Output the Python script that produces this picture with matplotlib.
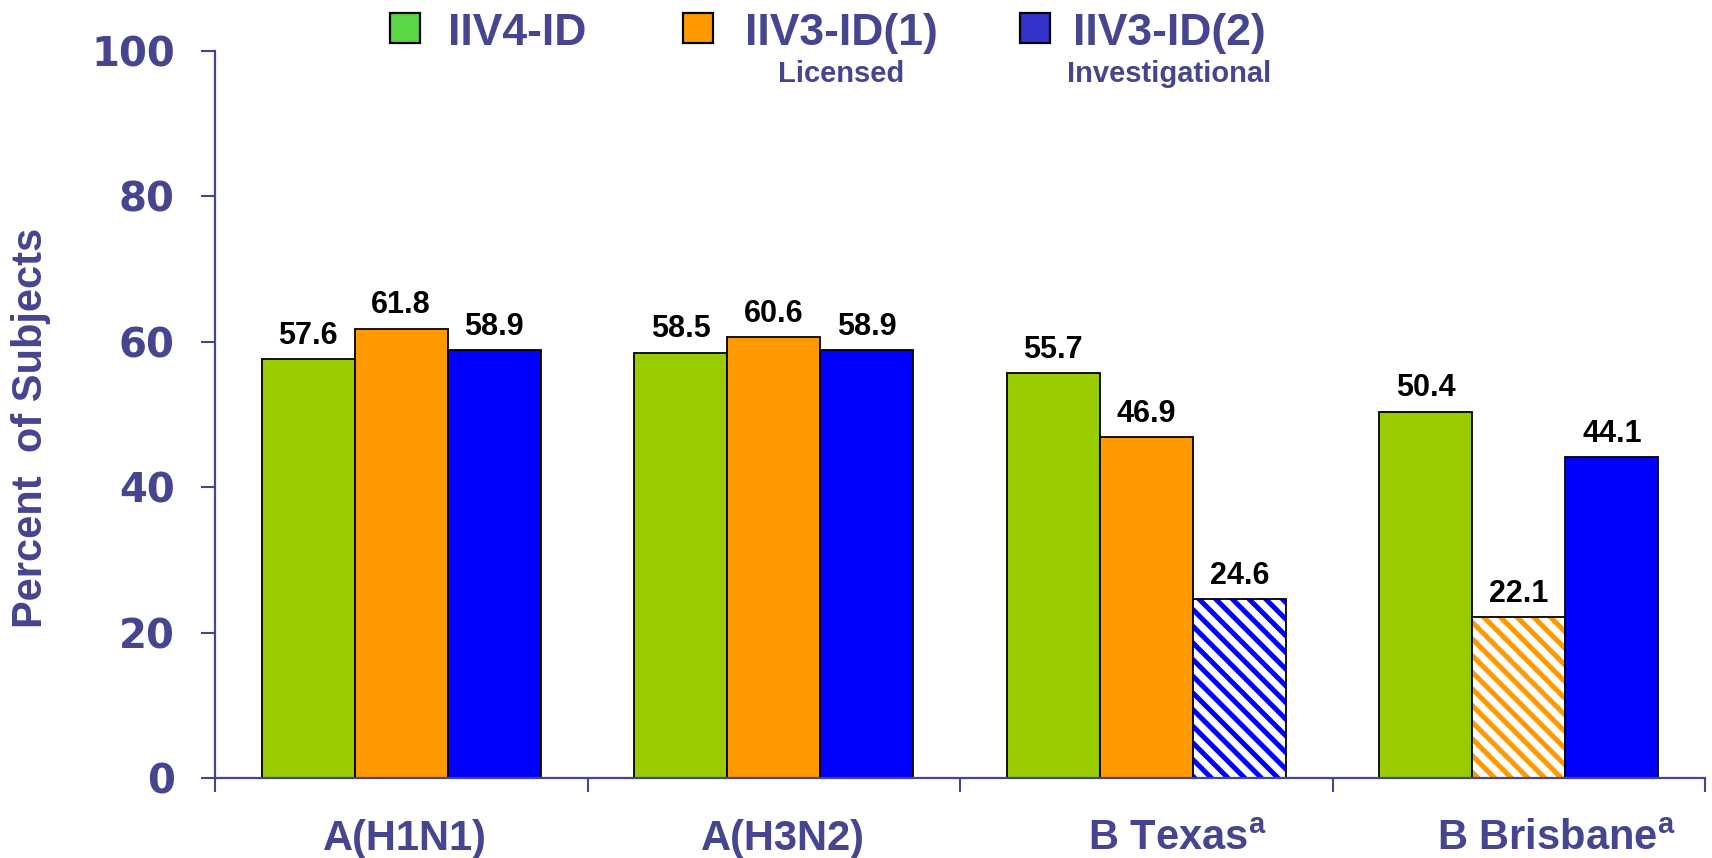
import matplotlib
matplotlib.use("Agg")
import matplotlib.pyplot as plt
from matplotlib.patches import Rectangle
import numpy as np

# values
categories = ["A(H1N1)", "A(H3N2)", r"B Texas$^{\mathrm{a}}$", r"B Brisbane$^{\mathrm{a}}$"]
series_names = ["IIV4-ID", "IIV3-ID(1)", "IIV3-ID(2)"]
series_notes = ["", "Licensed", "Investigational"]
iiv4_id = [57.6, 58.5, 55.7, 50.4]
iiv3_id1 = [61.8, 60.6, 46.9, 22.1]
iiv3_id2 = [58.9, 58.9, 24.6, 44.1]
y_ticks = [0, 20, 40, 60, 80, 100]

# styling
bar_colors = ["#99cc00", "#ff9900", "#0000ff"]
legend_colors = ["#5cd846", "#ff9900", "#3333cc"]
hatched_cells = {(2, 2), (3, 1)}  # (category, series) drawn striped
label_shift = [0.01, 0.024, 0.083, 0.10]
axis_color = "#454590"

plt.rcParams["font.family"] = ["Liberation Sans", "DejaVu Sans"]
plt.rcParams["mathtext.fontset"] = "custom"
plt.rcParams["mathtext.rm"] = "Liberation Sans:bold"
plt.rcParams["mathtext.bf"] = "Liberation Sans:bold"
plt.rcParams["hatch.linewidth"] = 3.6

fig = plt.figure(figsize=(17.12, 8.58), dpi=100)
ax = fig.add_axes([215 / 1712, 80 / 858, 1490 / 1712, 727 / 858])

series = [iiv4_id, iiv3_id1, iiv3_id2]
x = np.arange(len(categories))
width = 0.25

for s, vals in enumerate(series):
    xs = x + (s - 1) * width
    for c, v in enumerate(vals):
        if (c, s) in hatched_cells:
            ax.bar(xs[c], v, width, facecolor="white", edgecolor=bar_colors[s],
                   hatch="\\\\", linewidth=0, zorder=2)
            ax.bar(xs[c], v, width, fill=False, edgecolor="black",
                   linewidth=1.3, zorder=3)
        else:
            ax.bar(xs[c], v, width, color=bar_colors[s], edgecolor="black",
                   linewidth=1.3, zorder=2)
        ax.annotate(f"{v:.1f}", (xs[c], v), xytext=(0, 11), textcoords="offset points",
                    ha="center", va="baseline", fontsize=22, fontweight="bold",
                    color="black", zorder=4)

ax.set_xlim(-0.5, len(categories) - 0.5)
ax.set_ylim(0, 100)

for side in ["top", "right"]:
    ax.spines[side].set_visible(False)
for side in ["left", "bottom"]:
    ax.spines[side].set_color(axis_color)
    ax.spines[side].set_linewidth(1.6)
    ax.spines[side].set_zorder(5)

ax.set_yticks(y_ticks)
ax.set_yticklabels([str(t) for t in y_ticks], fontfamily="DejaVu Sans",
                   fontweight="bold", fontsize=29, color=axis_color)
ax.tick_params(axis="y", direction="out", length=10, width=1.5, color=axis_color, pad=19)

ax.set_xticks(np.arange(len(categories) + 1) - 0.5)
ax.set_xticklabels([])
ax.tick_params(axis="x", direction="out", length=10, width=1.5, color=axis_color)

for i, name in enumerate(categories):
    ax.annotate(name, (i + label_shift[i], 0), xycoords=("data", "axes fraction"),
                xytext=(0, -52), textcoords="offset points", ha="center",
                va="baseline", fontsize=30, fontweight="bold", color=axis_color,
                annotation_clip=False)

fig.text(31 / 1712, 0.501, "Percent  of Subjects", rotation=90, ha="center",
         va="center", fontsize=30, fontweight="bold", color=axis_color)

# legend drawn by hand so the sub-notes can sit under the names
box_left = [390, 683, 1020]
text_left = [448, 745, 1073]
for k in range(len(series_names)):
    fig.patches.append(Rectangle((box_left[k] / 1712, 1 - 43 / 858), 30 / 1712, 30 / 858,
                                 transform=fig.transFigure, facecolor=legend_colors[k],
                                 edgecolor="black", linewidth=1.6))
    t = fig.text(text_left[k] / 1712, 1 - 45 / 858, series_names[k], ha="left",
                 va="baseline", fontsize=32, fontweight="bold", color=axis_color)
    if series_notes[k]:
        fig.canvas.draw()
        bb = t.get_window_extent()
        cx = (bb.x0 + bb.x1) / 2 / fig.bbox.width
        fig.text(cx, 1 - 82 / 858, series_notes[k], ha="center", va="baseline",
                 fontsize=21, fontweight="bold", color=axis_color)

fig.savefig("out.png", dpi=100)
